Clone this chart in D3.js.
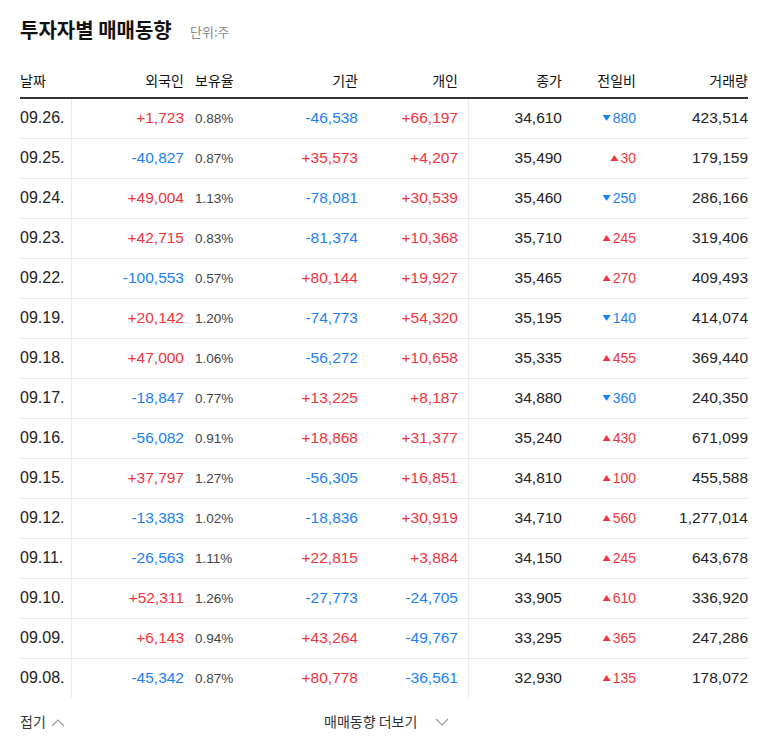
<!DOCTYPE html>
<html><head><meta charset="utf-8">
<script src="https://cdn.jsdelivr.net/npm/d3@7"></script>
<style>body{margin:0;background:#fff}</style>
</head><body>
<svg id="tbl" width="768" height="749"></svg>
<script>
// values, top row = most recent
const dates = ["09.26.","09.25.","09.24.","09.23.","09.22.","09.19.","09.18.","09.17.","09.16.","09.15.","09.12.","09.11.","09.10.","09.09.","09.08."];
const foreign = [1723,-40827,49004,42715,-100553,20142,47000,-18847,-56082,37797,-13383,-26563,52311,6143,-45342];
const holding = [0.88,0.87,1.13,0.83,0.57,1.20,1.06,0.77,0.91,1.27,1.02,1.11,1.26,0.94,0.87];
const inst = [-46538,35573,-78081,-81374,80144,-74773,-56272,13225,18868,-56305,-18836,22815,-27773,43264,80778];
const indiv = [66197,4207,30539,10368,19927,54320,10658,8187,31377,16851,30919,3884,-24705,-49767,-36561];
const close = [34610,35490,35460,35710,35465,35195,35335,34880,35240,34810,34710,34150,33905,33295,32930];
const change = [-880,30,-250,245,270,-140,455,-360,430,100,560,245,610,365,135];
const volume = [423514,179159,286166,319406,409493,414074,369440,240350,671099,455588,1277014,643678,336920,247286,178072];

const RED = "#f0343c", BLUE = "#1a81f5", FONT = "'Liberation Sans', Arial, 'Noto Sans CJK KR', sans-serif";
const KR = "'Noto Sans CJK KR', sans-serif";
const fmt = d3.format(",");
const signed = v => (v > 0 ? "+" : "-") + fmt(Math.abs(v));
const tone = v => v > 0 ? RED : BLUE;

let svg = d3.select("#tbl"), left = 20, right = 748;
let rowH = 40, top0 = 98;
let y = d3.scaleBand().domain(d3.range(dates.length)).range([top0, top0 + rowH * dates.length]);

svg.append("text").attr("x", 20).attr("y", 38).attr("font-family", KR)
  .attr("font-size", 20).attr("font-weight", "bold").attr("fill", "#111").text("투자자별 매매동향");
svg.append("text").attr("x", 190).attr("y", 37).attr("font-family", KR)
  .attr("font-size", 13).attr("fill", "#888").text("단위:주");

// header
const heads = [["날짜",20,"start"],["외국인",184,"end"],["보유율",195,"start"],["기관",358,"end"],["개인",458,"end"],["종가",562,"end"],["전일비",636,"end"],["거래량",748,"end"]];
svg.append("g").selectAll("text").data(heads).enter().append("text")
  .attr("x", d => d[1]).attr("y", 86).attr("text-anchor", d => d[2])
  .attr("font-family", KR).attr("font-size", 14).attr("fill", "#111").text(d => d[0]);

// row separators
svg.append("g").selectAll("line").data(d3.range(1, dates.length)).enter().append("line")
  .attr("x1", left).attr("x2", right).attr("y1", i => y(i) + 0.5).attr("y2", i => y(i) + 0.5)
  .attr("stroke", "#ececec");
[71.5, 468.5].forEach(x => svg.append("line").attr("x1", x).attr("x2", x).attr("y1", top0).attr("y2", y.range()[1]).attr("stroke", "#ececec"));
svg.append("line").attr("x1", left).attr("x2", right).attr("y1", top0).attr("y2", top0).attr("stroke", "#333").attr("stroke-width", 2);

let rows = svg.append("g").attr("font-family", FONT).attr("font-size", 15.5)
  .selectAll("g").data(dates).enter().append("g")
  .attr("transform", (d, i) => "translate(0," + (y(i) + 25) + ")");

rows.append("text").attr("x", 20).attr("fill", "#222").attr("font-size", 16).text(d => d);
rows.append("text").attr("x", 184).attr("text-anchor", "end").attr("fill", (d, i) => tone(foreign[i])).text((d, i) => signed(foreign[i]));
rows.append("text").attr("x", 195).attr("fill", "#444").attr("font-size", 13.5).text((d, i) => holding[i].toFixed(2) + "%");
rows.append("text").attr("x", 358).attr("text-anchor", "end").attr("fill", (d, i) => tone(inst[i])).text((d, i) => signed(inst[i]));
rows.append("text").attr("x", 458).attr("text-anchor", "end").attr("fill", (d, i) => tone(indiv[i])).text((d, i) => signed(indiv[i]));
rows.append("text").attr("x", 562).attr("text-anchor", "end").attr("fill", "#222").text((d, i) => fmt(close[i]));
rows.append("text").attr("x", 636).attr("text-anchor", "end").attr("font-size", 14).attr("fill", (d, i) => tone(change[i])).text((d, i) => fmt(Math.abs(change[i])));
rows.append("text").attr("x", 748).attr("text-anchor", "end").attr("fill", "#222").text((d, i) => fmt(volume[i]));
// arrows next to change
rows.append("path")
  .attr("transform", (d, i) => "translate(" + (636 - fmt(Math.abs(change[i])).length * 7.8 - 6) + ",-5)")
  .attr("d", (d, i) => change[i] > 0 ? "M-4,3L4,3L0,-3Z" : "M-4,-3L4,-3L0,3Z")
  .attr("fill", (d, i) => tone(change[i]));

// footer
svg.append("text").attr("x", 20).attr("y", 727).attr("font-family", KR).attr("font-size", 14).attr("fill", "#333").text("접기");
svg.append("path").attr("d", "M52,726L58,720L64,726").attr("fill", "none").attr("stroke", "#999").attr("stroke-width", 1.2);
svg.append("text").attr("x", 324).attr("y", 727).attr("font-family", KR).attr("font-size", 14).attr("fill", "#333").text("매매동향 더보기");
svg.append("path").attr("d", "M436,719L442,725L448,719").attr("fill", "none").attr("stroke", "#999").attr("stroke-width", 1.2);
</script>
</body></html>
